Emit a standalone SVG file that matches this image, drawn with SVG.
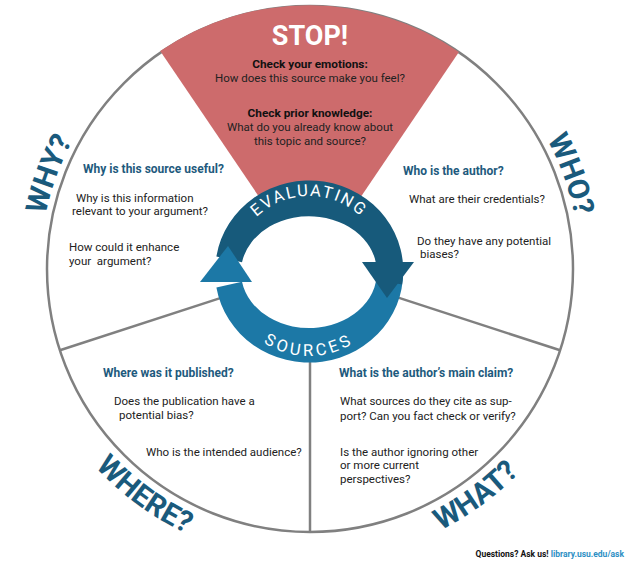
<svg xmlns="http://www.w3.org/2000/svg" width="626" height="566" viewBox="0 0 626 566">
<defs>
<style>
text{font-family:Roboto,"Liberation Sans",sans-serif;}
.body{font-size:11.5px;fill:#222;}
.bold{font-size:11.8px;font-weight:700;fill:#111;}
.head{font-size:12px;font-weight:700;fill:#1e5a7d;}
.big{font-size:29.5px;font-weight:700;fill:#1a5a7c;}
.ring{font-size:16.5px;fill:#fff;}
.div{stroke:#808080;stroke-width:2.5;fill:none;}
</style>
<path id="pWhy" d="M44.1,315.9 A270,270 0 0,1 136.4,62.2"/>
<path id="pWho" d="M483.6,62.2 A270,270 0 0,1 575.9,315.9"/>
<path id="pWhere" d="M39.3,378.4 A292,292 0 0,0 269.4,558.2"/>
<path id="pWhat" d="M350.6,558.2 A292,292 0 0,0 580.7,378.4"/>
<path id="pEval" d="M233,272 A76,76 0 0,1 385,272"/>
<path id="pSrc" d="M225,272 A84,84 0 0,0 393,272"/>
</defs>
<rect width="626" height="566" fill="#fff"/>

<g id="wheel">
<circle class="div" cx="310" cy="269" r="263"/>
</g>

<g id="connectors">
<line class="div" x1="310" y1="361" x2="310" y2="532"/>
<line class="div" x1="222.5" y1="297.4" x2="59.9" y2="350.3"/>
<line class="div" x1="397.5" y1="297.4" x2="560.1" y2="350.3"/>
</g>

<g id="stop">
<path d="M310,272 L160.2,51.0 A264.5,264.5 0 0,1 458.9,52.0 Z" fill="#cd6b6c"/>
<text x="310" y="45" text-anchor="middle" style="font-size:27px;font-weight:700;fill:#fff">STOP!</text>
<text class="bold" x="310" y="68" text-anchor="middle">Check your emotions:</text>
<text class="body" x="310" y="82" text-anchor="middle">How does this source make you feel?</text>
<text class="bold" x="310" y="117" text-anchor="middle">Check prior knowledge:</text>
<text class="body" x="310" y="131" text-anchor="middle">What do you already know about</text>
<text class="body" x="310" y="145" text-anchor="middle">this topic and source?</text>
</g>

<g id="cycle">
<circle cx="309" cy="272" r="62" fill="#fff"/>
<path d="M402.5,262.6 A94,90 0 0,1 216.4,287.6 L242.0,281.7 A68,56 0 0,0 376.6,266.1 Z" fill="#1c78a6"/>
<path d="M216.4,256.4 A94,90 0 0,1 402.1,284.5 L376.3,279.8 A68,56 0 0,0 242.0,262.3 Z" fill="#175a7b"/>
<polygon points="200,282 252,282 228,246" fill="#1c78a6"/>
<polygon points="362,262 414,262 387,298" fill="#175a7b"/>
<text class="ring" style="letter-spacing:2px"><textPath href="#pEval" startOffset="50%" text-anchor="middle">EVALUATING</textPath></text>
<text class="ring" style="letter-spacing:3.5px"><textPath href="#pSrc" startOffset="50%" text-anchor="middle">SOURCES</textPath></text>
</g>

<g id="why">
<text class="big"><textPath href="#pWhy" startOffset="50%" text-anchor="middle">WHY?</textPath></text>
<text class="head" x="83" y="173">Why is this source useful?</text>
<text class="body" x="76" y="202">Why is this information</text>
<text class="body" x="72" y="215">relevant to your argument?</text>
<text class="body" x="69" y="251">How could it enhance</text>
<text class="body" x="69" y="265" xml:space="preserve">your  argument?</text>
</g>

<g id="who">
<text class="big"><textPath href="#pWho" startOffset="50%" text-anchor="middle">WHO?</textPath></text>
<text class="head" x="403" y="175">Who is the author?</text>
<text class="body" x="409" y="203">What are their credentials?</text>
<text class="body" x="417" y="245">Do they have any potential</text>
<text class="body" x="420" y="258">biases?</text>
</g>

<g id="where">
<text class="big"><textPath href="#pWhere" startOffset="53%" text-anchor="middle">WHERE?</textPath></text>
<text class="head" x="103" y="377">Where was it published?</text>
<text class="body" x="114" y="405">Does the publication have a</text>
<text class="body" x="119" y="419">potential bias?</text>
<text class="body" x="146" y="456">Who is the intended audience?</text>
</g>

<g id="what">
<text class="big"><textPath href="#pWhat" startOffset="47%" text-anchor="middle">WHAT?</textPath></text>
<text class="head" x="339" y="377">What is the author’s main claim?</text>
<text class="body" x="340" y="405">What sources do they cite as sup-</text>
<text class="body" x="340" y="420">port? Can you fact check or verify?</text>
<text class="body" x="340" y="456">Is the author ignoring other</text>
<text class="body" x="340" y="469">or more current</text>
<text class="body" x="340" y="483">perspectives?</text>
</g>

<g id="footer">
<text x="624" y="557" text-anchor="end" style="font-size:8.5px;font-weight:700;fill:#111">Questions? Ask us! <tspan style="fill:#2d8fc4">library.usu.edu/ask</tspan></text>
</g>
</svg>
